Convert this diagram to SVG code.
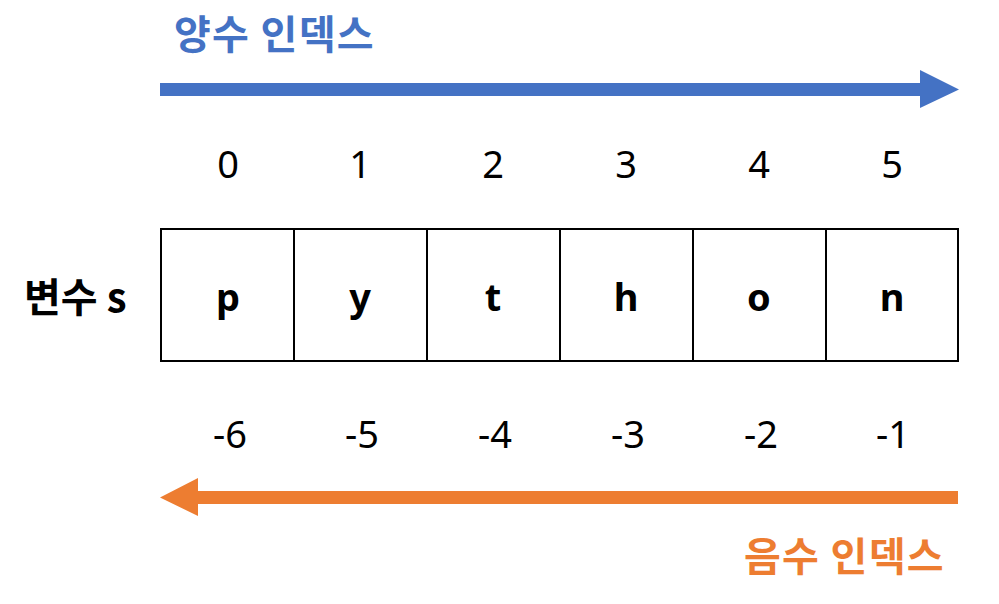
<svg xmlns="http://www.w3.org/2000/svg" width="999" height="604" viewBox="0 0 999 604">
<style>
.kr{font-family:"Noto Sans CJK KR","Noto Sans",sans-serif;font-weight:bold;font-size:40px}
.wide{letter-spacing:1.3px}
.num{font-family:"Noto Sans","Liberation Sans",sans-serif;font-size:38px;fill:#000;text-anchor:middle}
.ch{font-family:"Noto Sans","Liberation Sans",sans-serif;font-size:38px;font-weight:bold;fill:#000;text-anchor:middle}
.cell{fill:#fff;stroke:#000;stroke-width:2}
</style>
<rect width="999" height="604" fill="#fff"/>
<g id="connectors">
<polygon id="pos-arrow" fill="#4472C4" points="160,83 920,83 920,70 959,89.5 920,108 920,96 160,96"/>
<polygon id="neg-arrow" fill="#ED7D31" points="958,491 198,491 198,478 160,497.5 198,516 198,504 958,504"/>
</g>
<g id="label-pos"><text class="kr wide" x="174" y="49" fill="#4472C4">양수 인덱스</text></g>
<g id="label-neg"><text class="kr wide" x="744" y="571" fill="#ED7D31">음수 인덱스</text></g>
<g id="label-var"><text class="kr" x="24" y="312" fill="#000">변수 s</text></g>
<g id="pos-indices">
<text class="num" x="228" y="178">0</text>
<text class="num" x="360" y="178">1</text>
<text class="num" x="493" y="178">2</text>
<text class="num" x="626" y="178">3</text>
<text class="num" x="759" y="178">4</text>
<text class="num" x="892" y="178">5</text>
</g>
<g id="cells">
<g id="cell0"><rect class="cell" x="161" y="229" width="133" height="132"/><text class="ch" x="228" y="311">p</text></g>
<g id="cell1"><rect class="cell" x="294" y="229" width="133" height="132"/><text class="ch" x="360" y="311">y</text></g>
<g id="cell2"><rect class="cell" x="427" y="229" width="133" height="132"/><text class="ch" x="493" y="311">t</text></g>
<g id="cell3"><rect class="cell" x="560" y="229" width="133" height="132"/><text class="ch" x="626" y="311">h</text></g>
<g id="cell4"><rect class="cell" x="693" y="229" width="133" height="132"/><text class="ch" x="759" y="311">o</text></g>
<g id="cell5"><rect class="cell" x="826" y="229" width="132" height="132"/><text class="ch" x="892" y="311">n</text></g>
</g>
<g id="neg-indices">
<text class="num" x="230" y="448">-6</text>
<text class="num" x="362" y="448">-5</text>
<text class="num" x="495" y="448">-4</text>
<text class="num" x="628" y="448">-3</text>
<text class="num" x="761" y="448">-2</text>
<text class="num" x="893" y="448">-1</text>
</g>
</svg>
